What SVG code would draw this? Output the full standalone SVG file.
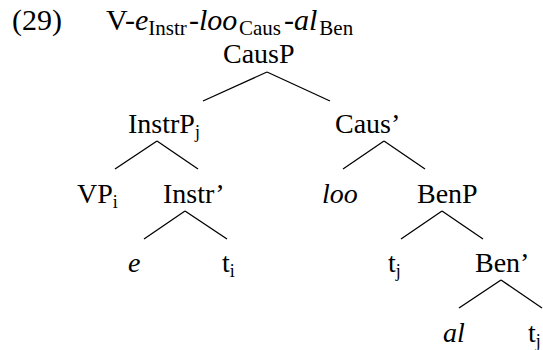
<svg xmlns="http://www.w3.org/2000/svg" width="543" height="350" viewBox="0 0 543 350">
<style>
text{font-family:"Liberation Serif","Times New Roman",serif;font-size:28px;fill:#000}
.t{font-size:30px}
.i{font-style:italic}
.s{font-size:18px}
.ts{font-size:21px}
.conn line{stroke:#000;stroke-width:1.3;fill:none}
</style>
<rect width="543" height="350" fill="#fff"/>
<g id="title">
<text class="t" x="12" y="30">(29)</text>
<text class="t" x="106" y="30">V-<tspan class="i">e</tspan><tspan class="ts" dy="5">Instr</tspan><tspan x="189" dy="-5">-</tspan><tspan class="i">loo</tspan><tspan class="ts" x="239" dy="5">Caus</tspan><tspan x="284" dy="-5">-</tspan><tspan class="i">al</tspan><tspan class="ts" dx="2" dy="5">Ben</tspan></text>
</g>
<g id="CausP"><text x="223" y="63">CausP</text></g>
<g id="InstrP"><text x="128" y="133">InstrP<tspan class="s" dy="5">j</tspan></text></g>
<g id="CausBar"><text x="335" y="133">Caus’</text></g>
<g id="VP"><text x="77" y="203">VP<tspan class="s" dy="5">i</tspan></text></g>
<g id="InstrBar"><text x="163" y="203">Instr’</text></g>
<g id="loo"><text class="i" x="322" y="203">loo</text></g>
<g id="BenP"><text x="417" y="203">BenP</text></g>
<g id="e"><text class="i" x="128" y="272">e</text></g>
<g id="ti"><text x="222" y="272">t<tspan class="s" dy="5">i</tspan></text></g>
<g id="tj1"><text x="388" y="272">t<tspan class="s" dy="5">j</tspan></text></g>
<g id="BenBar"><text x="475" y="272">Ben’</text></g>
<g id="al"><text class="i" x="443" y="342">al</text></g>
<g id="tj2"><text x="528" y="342">t<tspan class="s" dy="5">j</tspan></text></g>
<g class="conn" id="connectors">
<line x1="267" y1="72" x2="203" y2="101"/>
<line x1="267" y1="72" x2="330" y2="101"/>
<line x1="157" y1="141" x2="115" y2="169"/>
<line x1="157" y1="141" x2="198" y2="169"/>
<line x1="384" y1="141" x2="343" y2="169"/>
<line x1="384" y1="141" x2="425" y2="169"/>
<line x1="185" y1="211" x2="144" y2="239"/>
<line x1="185" y1="211" x2="227" y2="239"/>
<line x1="442" y1="211" x2="401" y2="239"/>
<line x1="442" y1="211" x2="483" y2="239"/>
<line x1="501" y1="280" x2="459" y2="308"/>
<line x1="501" y1="280" x2="542" y2="308"/>
</g>
</svg>
